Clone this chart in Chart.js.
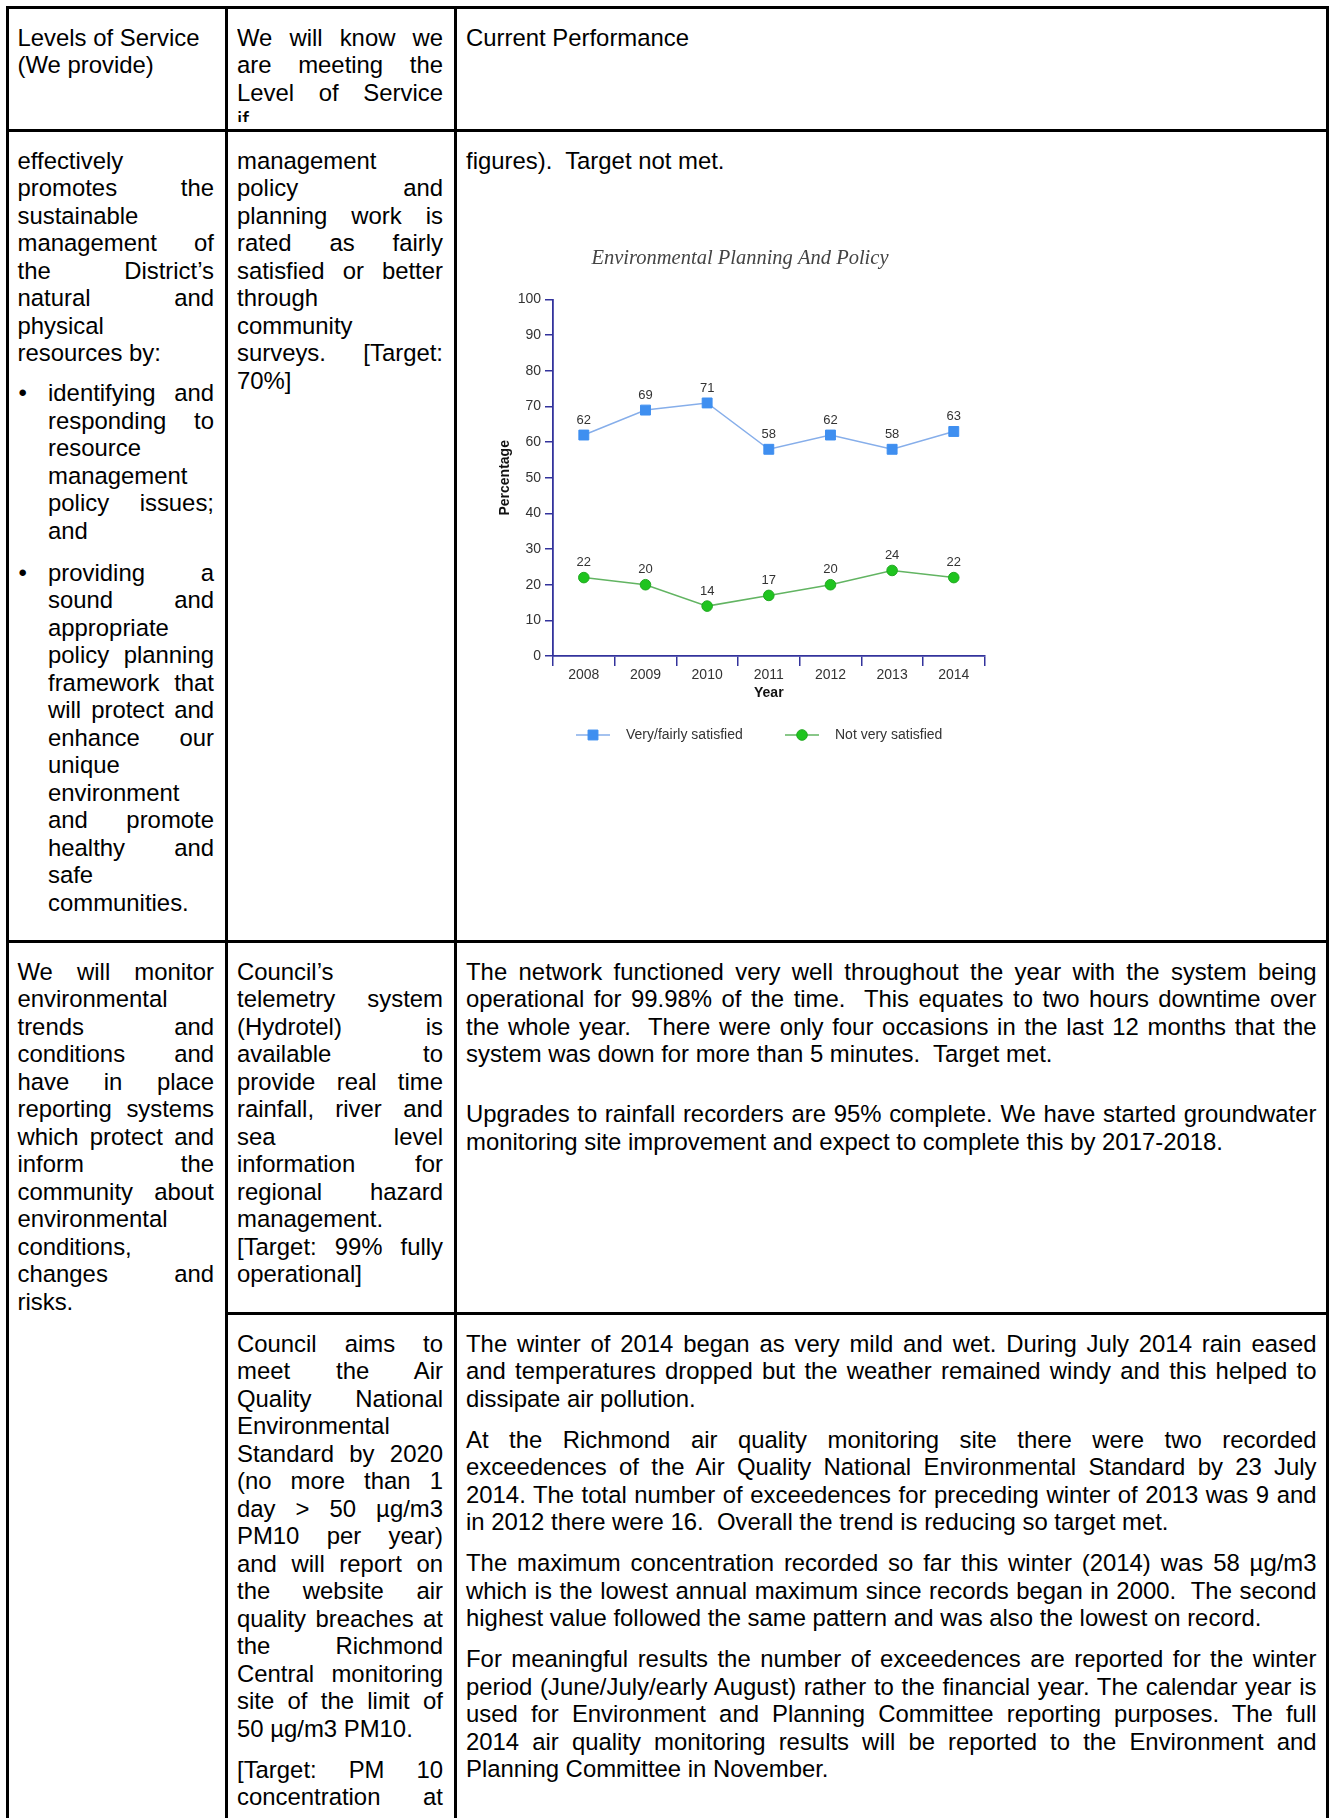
<!DOCTYPE html>
<html lang="en">
<head>
<meta charset="UTF-8">
<title>Levels of Service - Environmental Planning And Policy</title>
<script src="https://cdn.jsdelivr.net/npm/chart.js"></script>
<style>
    html, body {
        margin: 0;
        padding: 0;
        background: #fff;
        overflow: hidden;
    }

    body {
        width: 1330px;
        height: 1818px;
        position: relative;
        font-family: "Liberation Sans", Arial, sans-serif;
        font-size: 23.9px;
        line-height: 27.5px;
        color: #000;
    }

    table {
        position: absolute;
        left: 5.5px;
        top: 5.5px;
        width: 1323px;
        border-collapse: collapse;
        table-layout: fixed;
    }

    td {
        border: 3px solid #000;
        vertical-align: top;
        padding: 15px 11px 0 9px;
        text-align: justify;
        overflow: hidden;
    }

    td.c3 { padding-right: 9px; }

    p { margin: 0; }
    p + p { margin-top: 13.5px; }
    p.gap { margin-top: 32.5px; }

    /* narrow column: line breaks follow the original document */
    .lines {
        text-align: justify;
        text-align-last: justify;
    }
    .last { display: inline-block; }

    .head-clip {
        height: 98.5px;
        overflow: hidden;
    }

    ul {
        list-style: none;
        margin: 12.5px 0 0 0;
        padding: 0;
    }

    li {
        position: relative;
        padding-left: 30.5px;
    }

    li + li { margin-top: 14.5px; }

    li::before {
        content: "\2022";
        position: absolute;
        left: 1px;
    }

    #chart {
        display: block;
        margin: 58px 0 0 9px;
    }
</style>
</head>
<body>

<table>
    <colgroup>
        <col style="width:219.5px">
        <col style="width:229px">
        <col style="width:871.5px">
    </colgroup>
    <tr style="height:123px">
        <td style="text-align:left"><div class="head-clip">Levels of Service (We provide)</div></td>
        <td><div class="head-clip lines">We will know we<br>are meeting the<br>Level of Service<br>if</div></td>
        <td class="c3" style="text-align:left"><div class="head-clip">Current Performance</div></td>
    </tr>
    <tr style="height:811px">
        <td>
            <p>effectively promotes the sustainable management of the District’s natural and physical resources by:</p>
            <ul>
                <li>identifying and responding to resource management policy issues; and</li>
                <li>providing a sound and appropriate policy planning framework that will protect and enhance our unique environment and promote healthy and safe communities.</li>
            </ul>
        </td>
        <td>
            <p class="lines">management<br>policy and<br>planning work is<br>rated as fairly<br>satisfied or better<br>through<br>community<br>surveys.&nbsp; [Target:<br>70%]</p>
        </td>
        <td class="c3">
            <p style="text-align:left">figures).&nbsp; Target not met.</p>
            <canvas id="chart" width="530" height="540"></canvas>
        </td>
    </tr>
    <tr style="height:372px">
        <td rowspan="2">
            <p>We will monitor environmental trends and conditions and have in place reporting systems which protect and inform the community about environmental conditions, changes and risks.</p>
        </td>
        <td>
            <p class="lines">Council’s<br>telemetry system<br>(Hydrotel) is<br>available to<br>provide real time<br>rainfall, river and<br>sea level<br>information for<br>regional hazard<br>management.<br>[Target: 99% fully<br>operational]</p>
        </td>
        <td class="c3">
            <p>The network functioned very well throughout the year with the system being operational for 99.98% of the time.&nbsp; This equates to two hours downtime over the whole year.&nbsp; There were only four occasions in the last 12 months that the system was down for more than 5 minutes.&nbsp; Target met.</p>
            <p class="gap">Upgrades to rainfall recorders are 95% complete. We have started groundwater monitoring site improvement and expect to complete this by 2017-2018.</p>
        </td>
    </tr>
    <tr style="height:620px">
        <td>
            <p class="lines">Council aims to<br>meet the Air<br>Quality National<br>Environmental<br>Standard by 2020<br>(no more than 1<br>day &gt; 50 µg/m3<br>PM10 per year)<br>and will report on<br>the website air<br>quality breaches at<br>the Richmond<br>Central monitoring<br>site of the limit of<br><span class="last">50 µg/m3 PM10.</span></p>
            <p class="lines">[Target: PM 10<br>concentration at</p>
        </td>
        <td class="c3">
            <p>The winter of 2014 began as very mild and wet. During July 2014 rain eased and temperatures dropped but the weather remained windy and this helped to dissipate air pollution.</p>
            <p>At the Richmond air quality monitoring site there were two recorded exceedences of the Air Quality National Environmental Standard by 23 July 2014. The total number of exceedences for preceding winter of 2013 was 9 and in 2012 there were 16.&nbsp; Overall the trend is reducing so target met.</p>
            <p>The maximum concentration recorded so far this winter (2014) was 58 µg/m3 which is the lowest annual maximum since records began in 2000.&nbsp; The second highest value followed the same pattern and was also the lowest on record.</p>
            <p>For meaningful results the number of exceedences are reported for the winter period (June/July/early August) rather to the financial year. The calendar year is used for Environment and Planning Committee reporting purposes. The full 2014 air quality monitoring results will be reported to the Environment and Planning Committee in November.</p>
        </td>
    </tr>
</table>

<script>
    // survey results
    const years = ['2008', '2009', '2010', '2011', '2012', '2013', '2014'];
    const satisfied = [62, 69, 71, 58, 62, 58, 63];
    const notSatisfied = [22, 20, 14, 17, 20, 24, 22];
    const seriesNames = ['Very/fairly satisfied', 'Not very satisfied'];
    const yMin = 0;
    const yMax = 100;
    const yStep = 10;

    const sans = '"Liberation Sans", Arial, sans-serif';
    const axisColor = '#33339c';

    // value printed above each point
    const pointLabels = {
        id: 'pointLabels',
        afterDatasetsDraw(chart) {
            const ctx = chart.ctx;
            ctx.save();
            ctx.font = '13px ' + sans;
            ctx.fillStyle = '#333';
            ctx.textAlign = 'center';
            ctx.textBaseline = 'middle';
            chart.data.datasets.forEach((ds, i) => {
                chart.getDatasetMeta(i).data.forEach((pt, j) => {
                    ctx.fillText(ds.data[j], pt.x, pt.y - 15);
                });
            });
            ctx.restore();
        }
    };

    // legend with line + marker, like the original
    const lineLegend = {
        id: 'lineLegend',
        afterDraw(chart) {
            const { ctx, chartArea } = chart;
            const y = chartArea.bottom + 79;
            const starts = [chartArea.left + 23, chartArea.left + 232];
            chart.data.datasets.forEach((ds, i) => {
                const x0 = starts[i];
                ctx.save();
                ctx.strokeStyle = ds.borderColor;
                ctx.lineWidth = 1.5;
                ctx.beginPath();
                ctx.moveTo(x0, y);
                ctx.lineTo(x0 + 34, y);
                ctx.stroke();
                ctx.fillStyle = ds.pointBackgroundColor;
                ctx.strokeStyle = ds.pointBorderColor;
                ctx.lineWidth = 1;
                Chart.helpers.drawPoint(ctx, {
                    pointStyle: ds.pointStyle,
                    radius: ds.pointRadius,
                    borderWidth: 1,
                    rotation: 0
                }, x0 + 17, y);
                ctx.font = '14px ' + sans;
                ctx.fillStyle = '#333';
                ctx.textAlign = 'left';
                ctx.textBaseline = 'middle';
                ctx.fillText(ds.label, x0 + 50, y);
                ctx.restore();
            });
        }
    };

    new Chart(document.getElementById('chart').getContext('2d'), {
        type: 'line',
        data: {
            labels: years,
            datasets: [
                {
                    label: seriesNames[0],
                    data: satisfied,
                    borderColor: '#86aeea',
                    borderWidth: 1.5,
                    pointStyle: 'rect',
                    pointRadius: 7,
                    pointBackgroundColor: '#3f8ff0',
                    pointBorderColor: '#3f8ff0',
                    pointBorderWidth: 1,
                    tension: 0
                },
                {
                    label: seriesNames[1],
                    data: notSatisfied,
                    borderColor: '#62b462',
                    borderWidth: 1.5,
                    pointStyle: 'circle',
                    pointRadius: 5.3,
                    pointBackgroundColor: '#1fc41f',
                    pointBorderColor: '#22a822',
                    pointBorderWidth: 1,
                    tension: 0
                }
            ]
        },
        options: {
            responsive: false,
            animation: false,
            devicePixelRatio: 1,
            layout: {
                padding: { top: 14.6, left: 20.4, right: 20.4, bottom: 66 }
            },
            plugins: {
                legend: { display: false },
                tooltip: { enabled: false },
                title: {
                    display: true,
                    text: 'Environmental Planning And Policy',
                    color: '#444',
                    font: { family: '"Liberation Serif", "Times New Roman", serif', style: 'italic', size: 20.5, weight: 'normal' },
                    padding: { top: 0, bottom: 28.4 }
                }
            },
            scales: {
                x: {
                    offset: true,
                    grid: {
                        display: true,
                        drawOnChartArea: false,
                        drawTicks: true,
                        tickLength: 10,
                        color: axisColor,
                        lineWidth: 1.5,
                        offset: true
                    },
                    border: { display: true, color: axisColor, width: 1.8 },
                    ticks: { color: '#333', font: { size: 14, family: sans }, padding: 1, maxRotation: 0 },
                    title: {
                        display: true,
                        text: 'Year',
                        color: '#111',
                        font: { size: 14, weight: 'bold', family: sans },
                        padding: { top: 0, bottom: 4 }
                    },
                    afterFit(scale) { scale.height = 50; }
                },
                y: {
                    min: yMin,
                    max: yMax,
                    ticks: { stepSize: yStep, color: '#333', font: { size: 14, family: sans }, padding: 4 },
                    grid: {
                        drawOnChartArea: false,
                        drawTicks: true,
                        tickLength: 8,
                        color: axisColor,
                        lineWidth: 1.5
                    },
                    border: { display: true, color: axisColor, width: 1.8 },
                    title: {
                        display: true,
                        text: 'Percentage',
                        color: '#111',
                        font: { size: 14, weight: 'bold', family: sans },
                        padding: { top: 1.2, bottom: 0 }
                    },
                    afterFit(scale) { scale.width = 57.6; }
                }
            }
        },
        plugins: [pointLabels, lineLegend]
    });
</script>
</body>
</html>
